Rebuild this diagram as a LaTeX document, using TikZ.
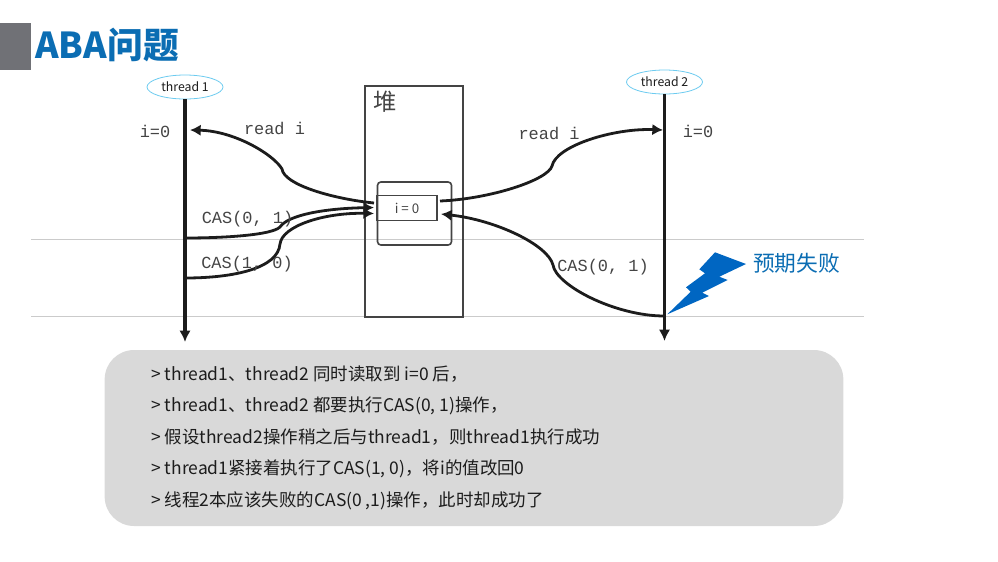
\documentclass[tikz,border=0pt]{standalone}
\usepackage{fontspec}
\setmainfont{Noto Sans CJK SC}
\newfontfamily\codefont{Liberation Mono}
\usepackage{xcolor}
\usetikzlibrary{shapes.geometric,positioning,calc,arrows.meta}

\definecolor{titleblue}{HTML}{0B6DB3}
\definecolor{boltblue}{HTML}{0066C2}
\definecolor{sidegrey}{HTML}{707176}
\definecolor{panelgrey}{HTML}{D9D9D9}
\definecolor{threadcyan}{HTML}{6CCBF0}
\definecolor{inkblack}{HTML}{1C1C1C}
\definecolor{boxgrey}{HTML}{444444}
\definecolor{railgrey}{HTML}{CBCBCB}

\tikzset{
  threadlabel/.style={ellipse, draw=threadcyan, line width=0.6pt, fill=white, minimum width=57pt, minimum height=18pt, inner sep=0pt, font=\fontsize{9.2pt}{11pt}\selectfont, text=inkblack},
  codelabel/.style={inner sep=0pt, font=\codefont\fontsize{12.7pt}{14pt}\selectfont, text=boxgrey},
  timeline/.style={line width=2.4pt, draw=inkblack, -{Latex[length=8.5pt,width=8.5pt]}},
  flow/.style={line width=2.1pt, draw=inkblack, -{Latex[length=8pt,width=8.5pt]}},
  heapbox/.style={draw=boxgrey, line width=1.2pt},
  noteline/.style={anchor=west, inner sep=0pt, font=\fontsize{13.1pt}{15pt}\selectfont, text=inkblack},
  railline/.style={draw=railgrey, line width=0.6pt}
}

\begin{document}
\begin{tikzpicture}[x=0.75pt, y=-0.75pt]
  \useasboundingbox (0, 0) rectangle (998, 561);

  % Title
  \fill[sidegrey] (0, 23) rectangle (31, 70);
  \node[anchor=west, inner sep=0pt, text=titleblue, font=\bfseries\fontsize{26.8pt}{32pt}\selectfont] (n_title) at (35, 45) {ABA问题};

  % Rails
  \coordinate (r_top_l) at (31, 239);
  \coordinate (r_top_r) at (864, 239);
  \coordinate (r_bot_l) at (31, 316.5);
  \coordinate (r_bot_r) at (864, 316.5);
  \draw[railline] (r_top_l) -- (r_top_r);
  \draw[railline] (r_bot_l) -- (r_bot_r);

  % Heap
  \node[heapbox, minimum width=73.5pt, minimum height=173.25pt, inner sep=0pt] (n_heap) at (414, 201.5) {};
  \node[inner sep=0pt, text=boxgrey, font=\fontsize{17.5pt}{19pt}\selectfont] (n_heaplabel) at (385, 102) {堆};
  \node[heapbox, rounded corners=2.5pt, minimum width=55.5pt, minimum height=47.25pt, inner sep=0pt] (n_cell) at (414.5, 213.5) {};
  \node[heapbox, minimum width=45pt, minimum height=18.75pt, inner sep=0pt, text=boxgrey, font=\fontsize{10pt}{11pt}\selectfont] (n_val) at (407, 208) {i = 0};

  % Threads
  \node[threadlabel] (n_t1) at (185, 87) {thread 1};
  \node[threadlabel] (n_t2) at (664.5, 82) {thread 2};
  \coordinate (t1_end) at (185, 342);
  \coordinate (t2_end) at (664.5, 341);
  \draw[timeline] (n_t1.south) -- (t1_end);
  \draw[timeline] (n_t2.south) -- (t2_end);

  % Thread 1 side
  \coordinate (a_read) at (190, 130);
  \coordinate (k_read) at (282, 169);
  \coordinate (h_read) at (374, 203);
  \draw[flow] (h_read) .. controls +(-40, -4) and +(2, 16) .. (k_read) .. controls +(-8, -14) and +(45, 1) .. (a_read);

  \coordinate (b_cas01) at (185, 238);
  \coordinate (k_cas01) at (280, 227);
  \coordinate (h_cas01) at (374, 207.5);
  \draw[flow] (b_cas01) .. controls +(40, 0) and +(-8, 8) .. (k_cas01) .. controls +(8, -12) and +(-50, 1) .. (h_cas01);

  \coordinate (b_cas10) at (185, 278);
  \coordinate (k_cas10) at (280, 244);
  \coordinate (h_cas10) at (374, 213.5);
  \draw[flow] (b_cas10) .. controls +(50, 0) and +(-2, 24) .. (k_cas10) .. controls +(2, -18) and +(-50, -1) .. (h_cas10);

  \node[codelabel] (n_i1) at (155, 131) {i=0};
  \node[codelabel] (n_read1) at (274.5, 128.5) {read i};
  \node[codelabel] (n_cas01) at (247.5, 219) {CAS(0, 1)};
  \node[codelabel] (n_cas10) at (247, 264) {CAS(1, 0)};

  % Thread 2 side
  \coordinate (h_read2) at (440, 201);
  \coordinate (k_read2) at (552, 166);
  \coordinate (a_read2) at (663, 130);
  \draw[flow] (h_read2) .. controls +(50, -2) and +(-4, 14) .. (k_read2) .. controls +(4, -20) and +(-50, -2) .. (a_read2);

  \coordinate (b_cas2) at (664.5, 316);
  \coordinate (k_cas2) at (553, 265);
  \coordinate (h_cas2) at (441, 214);
  \draw[flow] (b_cas2) .. controls +(-50, 0) and +(3, 20) .. (k_cas2) .. controls +(-5, -20) and +(55, 6) .. (h_cas2);

  \node[codelabel] (n_i2) at (698, 131) {i=0};
  \node[codelabel] (n_read2) at (549, 133) {read i};
  \node[codelabel] (n_cas2) at (603, 267) {CAS(0, 1)};

  % Bolt
  \fill[boltblue] (715, 252.3) -- (746, 264) -- (719.3, 276.7) -- (727.7, 280) -- (702.3, 292.7) -- (709, 296) -- (667.3, 314.3) -- (690.7, 291.7) -- (686, 287.3) -- (705, 273.3) -- (699.3, 269.3) -- cycle;
  \node[inner sep=0pt, text=titleblue, font=\fontsize{16.3pt}{19pt}\selectfont] (n_fail) at (796.5, 263.5) {预期失败};

  % Notes
  \node[fill=panelgrey, rounded corners=22pt, minimum width=554pt, minimum height=132pt, inner sep=0pt] (n_panel) at (474, 438) {};
  \node[noteline] (n_l1) at (151, 374.5) {> thread1、thread2 同时读取到 i=0 后，};
  \node[noteline] (n_l2) at (151, 405.5) {> thread1、thread2 都要执行CAS(0, 1)操作，};
  \node[noteline] (n_l3) at (151, 437.5) {> 假设thread2操作稍之后与thread1，则thread1执行成功};
  \node[noteline] (n_l4) at (151, 469) {> thread1紧接着执行了CAS(1, 0)，将i的值改回0};
  \node[noteline] (n_l5) at (151, 500.5) {> 线程2本应该失败的CAS(0 ,1)操作，此时却成功了};
\end{tikzpicture}
\end{document}
